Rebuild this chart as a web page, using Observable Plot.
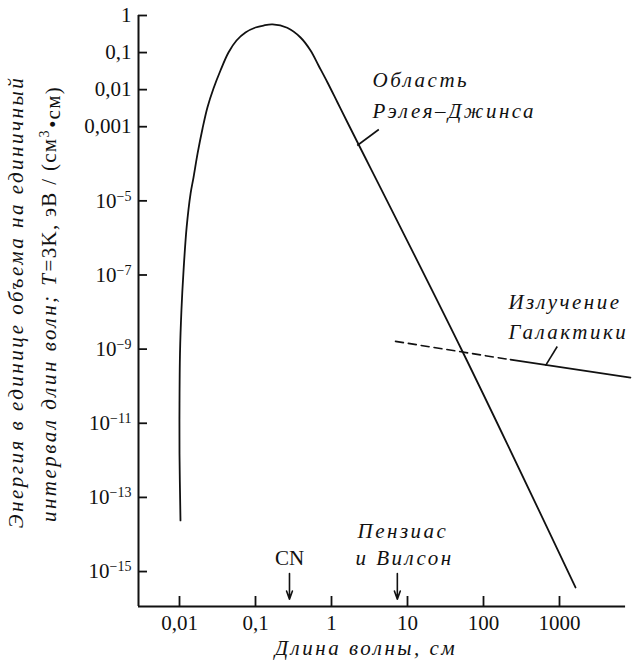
<!DOCTYPE html>
<html><head><meta charset="utf-8">
<script src="https://cdn.jsdelivr.net/npm/d3@7"></script>
<script src="https://cdn.jsdelivr.net/npm/@observablehq/plot@0.6"></script>
<style>
body{margin:0;background:#fff}
#chart svg{display:block;background:#fff;font-family:"Liberation Serif","DejaVu Serif",serif !important}
#chart svg text, #chart svg tspan{font-family:"Liberation Serif","DejaVu Serif",serif !important}
</style></head><body><div id="chart"></div>
<script>
// Planck curve at T=3K
const curveX = [0.0103,0.0100,0.0100,0.01015,0.0106,0.0113,0.0124,0.0140,0.0153,0.0173,0.0201,0.0233,0.0280,0.0346,0.0441,0.0562,0.0738,0.100,0.1274,0.1675,0.261,0.391,0.530,0.675,0.886,1.20,1.624,52.9,1624];
const curveY = [2.4e-14,1.5e-12,3.4e-11,7.6e-10,1.1e-8,1.3e-7,1.9e-6,1.6e-5,4.3e-5,1.9e-4,8.95e-4,3.30e-3,0.0107,0.0328,0.1004,0.212,0.348,0.474,0.537,0.575,0.466,0.255,0.1137,0.0448,0.0156,4.5e-3,1.3e-3,8.63e-10,3.72e-16];
// Galactic emission
const galDashX = [6.95, 226];
const galDashY = [1.62e-9, 5.2e-10];
const galSolidX = [226, 8590];
const galSolidY = [5.2e-10, 1.7e-10];
// Measurement arrows
const arrowX = [0.28, 7.35];
const arrowY1 = [8.9e-16, 8.9e-16];
const arrowY2 = [1.8e-16, 1.8e-16];
// Leader lines for labels
const leaderX1 = [2.18, 655];
const leaderY1 = [3.11e-4, 3.6e-10];
const leaderX2 = [4.19, 934];
const leaderY2 = [8.4e-4, 1.18e-9];
// Annotation texts
const noteText = ["Область", "Рэлея–Джинса", "Излучение", "Галактики", "Пензиас", "и Вилсон"];
const noteX = [3.46, 3.46, 213, 213, 2.2, 2.07];
const noteY = [0.0177, 0.00257, 1.81e-8, 2.82e-9, 1.2e-14, 2.34e-15];
const cnText = ["CN"];
const cnX = [0.28];
const cnY = [2.34e-15];
// Ticks
const xTicks = [0.01, 0.1, 1, 10, 100, 1000];
const xTickLabels = ["0,01", "0,1", "1", "10", "100", "1000"];
const yTicks = [1, 0.1, 0.01, 0.001, 1e-5, 1e-7, 1e-9, 1e-11, 1e-13, 1e-15];
const yTickLabels = ["1", "0,1", "0,01", "0,001", "10^−5", "10^−7", "10^−9", "10^−11", "10^−13", "10^−15"];

const xMin = Math.pow(10, -2.5395), xMax = Math.pow(10, 3.9605), xAxisEnd = 7400;
const yMin = Math.pow(10, -591 / 37.07), yMax = 1;
const xLab = new Map(xTicks.map((t, i) => [t, xTickLabels[i]]));
const yLab = new Map(yTicks.map((t, i) => [t, yTickLabels[i]]));
const idx = n => Array.from({length: n}, (_, i) => i);

const plot = Plot.plot({
  width: 632, height: 663,
  marginLeft: 138, marginRight: 0, marginTop: 15, marginBottom: 57,
  className: "chart",
  style: {fontSize: "21px", color: "#111", background: "#fff"},
  x: {type: "log", domain: [xMin, xMax]},
  y: {type: "log", domain: [yMin, yMax]},
  marks: [
    Plot.ruleX([xMin], {stroke: "#111", strokeWidth: 2}),
    Plot.ruleY([yMin], {x1: xMin, x2: xAxisEnd, stroke: "#111", strokeWidth: 2}),
    Plot.axisY(yTicks, {tickSize: 9, dx: 9, tickFormat: () => "", label: null, strokeWidth: 1.8, stroke: "#111"}),
    Plot.axisY(yTicks, {tickSize: 0, tickPadding: 7, tickFormat: d => yLab.get(d), label: null, fill: "#111"}),
    Plot.axisX(xTicks, {tickSize: 10, dy: -10, tickFormat: () => "", label: null, strokeWidth: 1.8, stroke: "#111"}),
    Plot.axisX(xTicks, {tickSize: 0, tickPadding: 9, tickFormat: d => xLab.get(d), label: null, fill: "#111"}),
    Plot.line(idx(curveX.length), {x: i => curveX[i], y: i => curveY[i], stroke: "#111", strokeWidth: 1.8, curve: "catmull-rom"}),
    Plot.line(idx(galDashX.length), {x: i => galDashX[i], y: i => galDashY[i], stroke: "#111", strokeWidth: 1.6, strokeDasharray: "8,5"}),
    Plot.line(idx(galSolidX.length), {x: i => galSolidX[i], y: i => galSolidY[i], stroke: "#111", strokeWidth: 1.6}),
    Plot.link(idx(leaderX1.length), {x1: i => leaderX1[i], y1: i => leaderY1[i], x2: i => leaderX2[i], y2: i => leaderY2[i], stroke: "#111", strokeWidth: 1.6}),
    Plot.arrow(idx(arrowX.length), {x1: i => arrowX[i], y1: i => arrowY1[i], x2: i => arrowX[i], y2: i => arrowY2[i], stroke: "#111", strokeWidth: 1.6, headLength: 9, headAngle: 40}),
    Plot.text(idx(noteText.length), {x: i => noteX[i], y: i => noteY[i], text: i => noteText[i], textAnchor: "start", fontStyle: "italic", fill: "#111"}),
    Plot.text(idx(cnText.length), {x: i => cnX[i], y: i => cnY[i], text: i => cnText[i], textAnchor: "middle", fill: "#111"})
  ]
});
document.getElementById("chart").appendChild(plot);

const svg = d3.select(plot);
// wide italic annotation lettering
svg.selectAll('g[aria-label="text"] text').each(function() {
  if (d3.select(this).text() !== "CN") d3.select(this).style("letter-spacing", "2.5px");
});
// superscripts for powers of ten
svg.selectAll('g[aria-label="y-axis tick label"] text').each(function() {
  const el = d3.select(this);
  const t = el.text();
  if (t.includes("^")) {
    const [base, exp] = t.split("^");
    el.text("");
    el.append("tspan").text(base);
    el.append("tspan").attr("dy", "-0.5em").attr("font-size", "14px").text(exp);
  }
});
// Y axis title (two rotated lines)
const yl1 = svg.append("text").attr("transform", "translate(16,302) rotate(-90)")
  .attr("text-anchor", "middle").attr("dy", "0.35em").attr("font-style", "italic")
  .attr("fill", "#111").attr("letter-spacing", "2.5px");
yl1.text("Энергия в единице объема на единичный");
const yl2 = svg.append("text").attr("transform", "translate(49,304) rotate(-90)")
  .attr("text-anchor", "middle").attr("dy", "0.35em").attr("fill", "#111").attr("letter-spacing", "2.5px");
yl2.append("tspan").attr("font-style", "italic").text("интервал длин волн; ");
yl2.append("tspan").attr("font-style", "italic").text("T");
yl2.append("tspan").attr("letter-spacing", "1.3px").text("=3K, эВ / (см");
yl2.append("tspan").attr("dy", "-0.55em").attr("font-size", "14px").text("3");
yl2.append("tspan").attr("dy", "0.55em").attr("letter-spacing", "1.3px").text("•см)");
// X axis title
svg.append("text").attr("x", 366).attr("y", 655).attr("text-anchor", "middle")
  .attr("font-style", "italic").attr("fill", "#111").attr("letter-spacing", "2.5px")
  .text("Длина волны, см");
</script></body></html>
